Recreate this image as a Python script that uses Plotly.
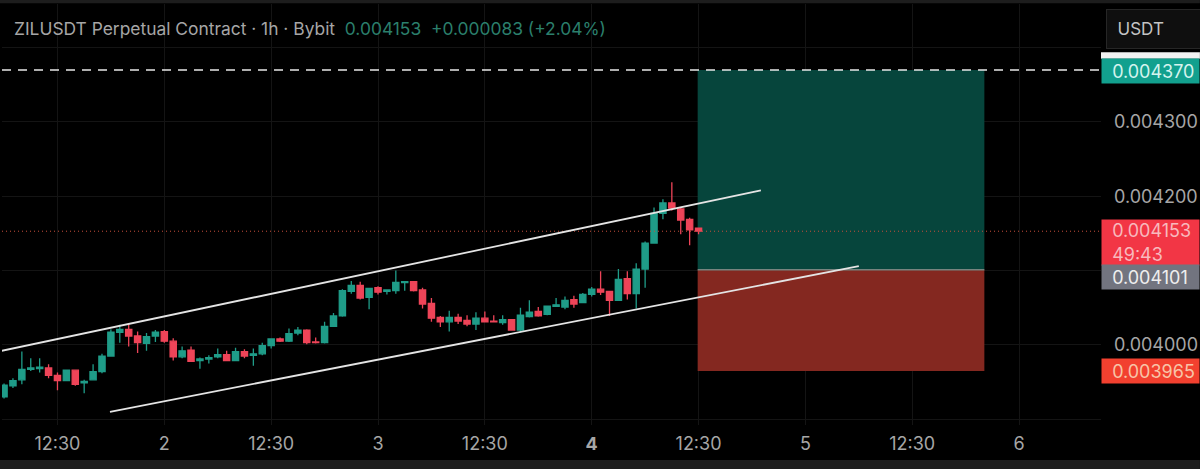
import plotly.graph_objects as go

# hours counted from the start of day 2
hours = list(range(-18, 61))

opens = [0.003930, 0.003945, 0.003953, 0.003967, 0.003968, 0.003969, 0.003959, 0.003952, 0.003966, 0.003949,
         0.003953, 0.003964, 0.003985, 0.004017, 0.004021, 0.004012, 0.004002, 0.004012, 0.004018, 0.004005,
         0.003984, 0.003993, 0.003979, 0.003981, 0.003984, 0.003987, 0.003979, 0.003991, 0.003986, 0.003988,
         0.003999, 0.004008, 0.004005, 0.004016, 0.004020, 0.004004, 0.004003, 0.004025, 0.004039, 0.004072,
         0.004080, 0.004064, 0.004077, 0.004072, 0.004073, 0.004084, 0.004085, 0.004074, 0.004056, 0.004037,
         0.004031, 0.004037, 0.004033, 0.004028, 0.004036, 0.004032, 0.004030, 0.004034, 0.004020, 0.004038,
         0.004045, 0.004041, 0.004052, 0.004051, 0.004061, 0.004057, 0.004068, 0.004075, 0.004072, 0.004060,
         0.004089, 0.004069, 0.004102, 0.004137, 0.004177, 0.004191, 0.004183, 0.004169, 0.004157]
highs = [0.003948, 0.003955, 0.003991, 0.003982, 0.003982, 0.003974, 0.003963, 0.003967, 0.003967, 0.003953,
         0.003974, 0.003988, 0.004021, 0.004027, 0.004029, 0.004018, 0.004016, 0.004020, 0.004020, 0.004009,
         0.003998, 0.003998, 0.003983, 0.003986, 0.003995, 0.003992, 0.003996, 0.003994, 0.003995, 0.004003,
         0.004009, 0.004010, 0.004022, 0.004024, 0.004021, 0.004010, 0.004031, 0.004043, 0.004075, 0.004086,
         0.004085, 0.004077, 0.004079, 0.004075, 0.004100, 0.004086, 0.004086, 0.004077, 0.004063, 0.004039,
         0.004046, 0.004042, 0.004040, 0.004044, 0.004045, 0.004040, 0.004040, 0.004035, 0.004050, 0.004060,
         0.004051, 0.004053, 0.004063, 0.004065, 0.004066, 0.004070, 0.004078, 0.004099, 0.004073, 0.004102,
         0.004099, 0.004110, 0.004139, 0.004185, 0.004196, 0.004219, 0.004185, 0.004171, 0.004158]
lows = [0.003928, 0.003942, 0.003947, 0.003965, 0.003963, 0.003955, 0.003939, 0.003951, 0.003945, 0.003935,
        0.003952, 0.003962, 0.003984, 0.004003, 0.003998, 0.003989, 0.003992, 0.004004, 0.004003, 0.003979,
        0.003982, 0.003977, 0.003968, 0.003975, 0.003982, 0.003978, 0.003978, 0.003982, 0.003972, 0.003986,
        0.003995, 0.004004, 0.004004, 0.004013, 0.004001, 0.004002, 0.004002, 0.004024, 0.004038, 0.004069,
        0.004061, 0.004048, 0.004068, 0.004068, 0.004069, 0.004073, 0.004072, 0.004049, 0.004031, 0.004024,
        0.004018, 0.004028, 0.004025, 0.004020, 0.004030, 0.004030, 0.004027, 0.004019, 0.004017, 0.004037,
        0.004038, 0.004040, 0.004051, 0.004048, 0.004050, 0.004056, 0.004065, 0.004067, 0.004039, 0.004059,
        0.004061, 0.004049, 0.004077, 0.004136, 0.004169, 0.004181, 0.004149, 0.004134, 0.004149]
closes = [0.003946, 0.003952, 0.003967, 0.003969, 0.003970, 0.003959, 0.003952, 0.003966, 0.003947, 0.003951,
          0.003964, 0.003985, 0.004017, 0.004021, 0.004012, 0.004003, 0.004011, 0.004017, 0.004005, 0.003984,
          0.003992, 0.003978, 0.003981, 0.003983, 0.003987, 0.003979, 0.003991, 0.003985, 0.003988, 0.003999,
          0.004008, 0.004005, 0.004015, 0.004020, 0.004003, 0.004003, 0.004025, 0.004039, 0.004073, 0.004080,
          0.004063, 0.004076, 0.004071, 0.004074, 0.004084, 0.004085, 0.004073, 0.004055, 0.004036, 0.004031,
          0.004037, 0.004032, 0.004028, 0.004036, 0.004031, 0.004031, 0.004034, 0.004020, 0.004040, 0.004044,
          0.004039, 0.004052, 0.004054, 0.004060, 0.004055, 0.004068, 0.004075, 0.004071, 0.004060, 0.004088,
          0.004069, 0.004102, 0.004137, 0.004177, 0.004191, 0.004184, 0.004168, 0.004155, 0.004153]

# channel drawn on the chart
upper_x = [-18.3, 67.0]
upper_y = [0.003992, 0.004208]
lower_x = [-6.1, 78.0]
lower_y = [0.003910, 0.004106]

# long position tool
box_x = [59.9, 92.1]
target_price = 0.004370
entry_price = 0.004101
stop_price = 0.003965
last_price = 0.004153

x_tickvals = [-12, 0, 12, 24, 36, 48, 60, 72, 84, 96]
x_ticktext = ["12:30", "2", "12:30", "3", "12:30", "<b>4</b>", "12:30", "5", "12:30", "6"]
y_tickvals = [0.003900, 0.004000, 0.004100, 0.004200, 0.004300, 0.004400]
y_ticktext = ["", "0.004000", "", "0.004200", "0.004300", ""]

x_range = [-18.23, 105.2]
y_range = [0.0038922, 0.0044588]

FONT = "Inter"
GREEN = "#1f9c88"
RED = "#ee4458"
GRID = "#141414"
TEXT = "#a6a6a6"

fig = go.Figure()

fig.add_trace(go.Scatter(x=x_range, y=[target_price, target_price], mode="lines",
                         line=dict(color="#e8e8e8", width=1.5, dash="9px,7px")))
fig.add_trace(go.Scatter(x=x_range, y=[last_price, last_price], mode="lines",
                         line=dict(color="#c8503c", width=1, dash="1px,3px")))

fig.add_trace(go.Candlestick(
    x=hours, open=opens, high=highs, low=lows, close=closes,
    whiskerwidth=0,
    increasing=dict(line=dict(color=GREEN, width=1.3), fillcolor=GREEN),
    decreasing=dict(line=dict(color=RED, width=1.3), fillcolor=RED),
))

fig.add_trace(go.Scatter(x=upper_x, y=upper_y, mode="lines", line=dict(color="#e4e4e4", width=1.8)))
fig.add_trace(go.Scatter(x=lower_x, y=lower_y, mode="lines", line=dict(color="#e4e4e4", width=1.8)))

# profit / loss zones
fig.add_shape(type="rect", xref="x", yref="y", x0=box_x[0], x1=box_x[1], y0=entry_price, y1=target_price,
              fillcolor="#06453c", line_width=0, layer="between")
fig.add_shape(type="rect", xref="x", yref="y", x0=box_x[0], x1=box_x[1], y0=stop_price, y1=entry_price,
              fillcolor="#842820", line_width=0, layer="between")
fig.add_shape(type="line", xref="x", yref="y", x0=box_x[0], x1=box_x[1], y0=entry_price, y1=entry_price,
              line=dict(color="#75847f", width=1.5), layer="between")

# screenshot frame
fig.add_shape(type="rect", xref="paper", yref="paper", x0=-0.002, x1=1.09, y0=-0.1045, y1=-0.0831,
              fillcolor="#1d1d1d", line_width=0)
fig.add_shape(type="rect", xref="paper", yref="paper", x0=-0.002, x1=1.09, y0=1.002, y1=1.0095,
              fillcolor="#1d1d1d", line_width=0)

# white label hidden behind the target label
fig.add_shape(type="rect", xref="paper", yref="y", x0=1.0, x1=1.09, y0=0.004385, y1=0.004394,
              fillcolor="#f2f2f2", line_width=0)


def price_label(price, text, bg, color, shift, height=24):
    fig.add_annotation(xref="paper", yref="y", x=1.0, y=price, xanchor="left", yanchor="middle",
                       text=text, showarrow=False, bgcolor=bg, width=97, height=height,
                       align="left", yshift=shift, borderpad=0,
                       font=dict(family=FONT, size=18, color=color))


price_label(target_price, "  0.004370", "#12a08e", "#d4f4ee", -1)
price_label(last_price, "  0.004153<br>  49:43", "#f23645", "#f8b9bd", -11, height=45)
price_label(entry_price, "  0.004101", "#72747f", "#eeeeee", -7.5)
price_label(stop_price, "  0.003965", "#f2402f", "#f8c4a8", 0)

fig.add_annotation(xref="paper", yref="paper", x=1.0045, y=1.0, xanchor="left", yanchor="top",
                   text="  USDT", showarrow=False, bgcolor="#0f0f0f", bordercolor="#262626", borderwidth=1,
                   width=93, height=36, align="left", yshift=-5,
                   font=dict(family=FONT, size=17, color="#c4c4c4"))

fig.add_annotation(xref="paper", yref="paper", x=0.0095, y=0.941, xanchor="left", yanchor="middle",
                   showarrow=False, align="left",
                   text="ZILUSDT Perpetual Contract · 1h · Bybit  "
                        "<span style='color:#2b7f6c'>0.004153  +0.000083 (+2.04%)</span>",
                   font=dict(family=FONT, size=17.4, color=TEXT))

fig.update_xaxes(range=x_range, tickvals=x_tickvals, ticktext=x_ticktext, showgrid=True, gridcolor=GRID,
                 gridwidth=1, zeroline=False, showline=False, ticks="", ticklabelstandoff=6,
                 rangeslider_visible=False, tickfont=dict(family=FONT, size=18, color=TEXT))
fig.update_yaxes(range=y_range, side="right", tickvals=y_tickvals, ticktext=y_ticktext, showgrid=True,
                 gridcolor=GRID, gridwidth=1, zeroline=False, showline=False, ticks="", ticklabelstandoff=12,
                 tickfont=dict(family=FONT, size=18, color=TEXT))

fig.update_layout(width=1200, height=469, paper_bgcolor="#000000", plot_bgcolor="#000000",
                  margin=dict(l=2, r=97, t=4, b=44), showlegend=False, boxgap=0.3, boxgroupgap=0)

fig.write_html("out.html", config={"displayModeBar": False},
               post_script="document.body.style.margin = '0';")
